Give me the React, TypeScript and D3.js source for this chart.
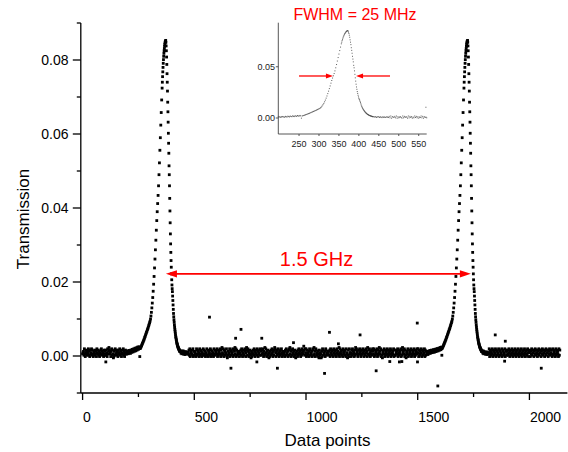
import React from "react";
import * as d3 from "d3";

// ---------- data ----------
const X_TICKS = [0, 500, 1000, 1500, 2000];
const X_MINOR = [250, 750, 1250, 1750];
const Y_TICKS = [0, 0.02, 0.04, 0.06, 0.08];
const Y_MINOR = [-0.01, 0.01, 0.03, 0.05, 0.07, 0.09];
const INSET_X_TICKS = [250, 300, 350, 400, 450, 500, 550];
const INSET_Y_TICKS = [0, 0.05];

// resonance centres (data index)
const PEAK_CENTERS = [372, 1723];
// peak profile: offset from centre (data index) and value in units of 1e-4
const PEAK_OFFSETS = [
  -114, -112, -110, -108, -106, -104, -102, -100, -98, -96, -94, -92, -90, -88, -86, -84,
  -82, -80, -78, -76, -74, -72, -70, -68, -66, -64, -62, -60,
  -58, -56, -54, -52, -50, -48, -46, -44, -42, -40, -38, -36, -34, -32,
  -30, -28, -26, -24, -22, -20, -18, -16,
  -15, -14, -13, -12, -11, -10, -9, -8, -7, -6, -5, -4, -3, -2, -1, 0,
  1, 2, 3, 4, 5, 6, 7, 8, 9, 10, 11, 12, 13, 14, 15, 16,
  17, 18, 19, 20, 21, 22, 23, 24, 25, 26, 27, 28, 29, 30, 31, 32,
  33, 34, 35, 36, 37, 38, 39, 40, 41, 42, 43, 44, 45, 46, 47, 48,
  49, 50, 51, 52, 53, 54, 55, 56, 57, 58, 59, 60, 61, 62, 63, 64,
];
const PEAK_VALUES = [
  20, 23, 25, 28, 31, 34, 37, 40, 43, 46, 50, 53, 57, 60, 64, 67,
  71, 74, 78, 82, 86, 90, 94, 100, 108, 118, 130, 143,
  158, 175, 194, 215, 238, 262, 287, 313, 340, 366, 390, 412, 434, 460,
  490, 522, 556, 590, 624, 658, 692, 724,
  740, 755, 768, 780, 791, 801, 810, 818, 825, 831, 837, 842, 846, 849, 851, 853,
  848, 838, 825, 808, 788, 763, 740, 716, 686, 660, 632, 602, 575, 548, 514, 490,
  460, 426, 392, 360, 330, 303, 280, 258, 240, 222, 206, 192, 182, 174, 162, 150,
  138, 126, 115, 106, 98, 91, 84, 78, 72, 67, 62, 57, 52, 49, 45, 42,
  38, 35, 33, 31, 28, 26, 24, 23, 21, 20, 18, 17, 16, 14, 13, 12,
];

// wing regions next to the peaks, units of 1e-4, every 2nd index
const TAIL_STARTS = [196, 438, 1540, 1789];
const TAIL_VALUES = [
  [5, 12, 8, 14, 6, 11, 15, 9, 13, 7, 16, 12, 10, 18, 14, 11, 19, 15, 13, 21, 17, 14, 22, 19, 16, 24, 20, 18, 25, 21],
  [14, 8, 13, 6, 12, 9, 14, 5, 11, 8, 4, 12, 7, 10, 5, 9, 11],
  [6, 12, 9, 4, 13, 8, 11, 15, 7, 12, 10, 16, 9, 14, 11, 17, 13, 10, 18, 14, 12, 19, 15, 13, 20, 17, 14, 21, 18, 16, 23, 19, 17, 24],
  [13, 8, 14, 6, 12, 7, 11, 5, 10, 8, 4, 11, 6, 9, 5, 8],
];

// flat baseline: one digit per 2 data indices, level = (-5 + 3.5 * digit) * 1e-4
const BASELINE_STEP = 2;
const LAST_INDEX = 2136;
const BASELINE_DIGITS =
  "34527314652437251634726315426351743625143672534162" +
  "53624173586341572630152736425163472531643725146352" +
  "42637152436274153627415326471532647153264713526473" +
  "15342637251436271543627153426375142637152436271543" +
  "62715843627154326371524367215436271543627154362715" +
  "24531726354172635142736251437261534271635241736254" +
  "37162543716284371625437102534716253471625837162543" +
  "51436275143627514862751436205143627514362751436275" +
  "26374152837415263041526374152687415263741526374152" +
  "43516274351627835162743516204351627435162743596274" +
  "71624351762435176283517624351062430517624351762435" +
  "35261743526174352617435281743526174352617430261743" +
  "41627354162837451263745126374513627451836274153627" +
  "53716245371624853716204537162453716245371624537162" +
  "26453716245371628453716204537162453716245371624537" +
  "47162534716253471625347162534716283471625347102534" +
  "35172643517264351726435172643517264351786435172643" +
  "61534726153472615347261534726158472615347261534726" +
  "24371652437165243716524371652437165243716524371652" +
  "53627415362741536274153627415362741536274153627415" +
  "46153726461537264615372646153726461537264615372646" +
  "31726453172645317264531726453172645317264531726453";

// isolated points
const OUTLIER_X = [104, 568, 664, 685, 709, 780, 802, 872, 944, 1083, 1105, 1145, 1242, 1314, 1375, 1418, 1429, 1498, 1499, 1590, 1847, 1889, 1892, 2053];
const OUTLIER_Y = [-0.0016, 0.0105, -0.0033, 0.0048, 0.0072, -0.0016, 0.0048, -0.0033, 0.0036, -0.0047, 0.0064, 0.0033, 0.0057, -0.004, -0.0015, -0.0016, -0.0015, 0.0089, -0.0016, -0.0081, 0.0057, -0.0014, 0.004, -0.0033];

// annotations
const SPACING_LABEL = "1.5 GHz";
const ARROW_FROM = 373;
const ARROW_TO = 1738;
const ARROW_Y = 0.0222;
const FWHM_LABEL = "FWHM = 25 MHz";
const FWHM_LEFT = [250, 335];
const FWHM_RIGHT = [478, 393];
const FWHM_Y = 0.041;

// ---------- build point list ----------
type P = { i: number; v: number };
function buildPoints(): P[] {
  const pts: P[] = [];
  const inRange = (idx: number, a: number, b: number) => idx >= a && idx <= b;
  const lo = d3.min(PEAK_OFFSETS) as number;
  const hi = d3.max(PEAK_OFFSETS) as number;
  const peakRanges = PEAK_CENTERS.map((c) => [c + lo, c + hi]);
  const tailRanges = TAIL_STARTS.map((s, k) => [s, s + BASELINE_STEP * (TAIL_VALUES[k].length - 1)]);
  for (let k = 0; k < BASELINE_DIGITS.length; k++) {
    const idx = k * BASELINE_STEP;
    if (idx > LAST_INDEX) break;
    if (peakRanges.some(([a, b]) => inRange(idx, a, b))) continue;
    if (tailRanges.some(([a, b]) => inRange(idx, a, b))) continue;
    const d = +BASELINE_DIGITS[k];
    pts.push({ i: idx, v: (-5 + 3.5 * d) * 1e-4 });
  }
  TAIL_STARTS.forEach((s, k) => {
    TAIL_VALUES[k].forEach((val, j) => pts.push({ i: s + BASELINE_STEP * j, v: val * 1e-4 }));
  });
  PEAK_CENTERS.forEach((c) => {
    PEAK_OFFSETS.forEach((o, j) => pts.push({ i: c + o, v: PEAK_VALUES[j] * 1e-4 }));
  });
  OUTLIER_X.forEach((xv, j) => pts.push({ i: xv, v: OUTLIER_Y[j] }));
  return pts;
}

const FONT = "'Liberation Sans', Arial, Helvetica, sans-serif";
const RED = "#ff0000";

export default function App() {
  const W = 568;
  const H = 452;
  const x = d3.scaleLinear().domain([-8, 2170]).range([80.8, 567.4]);
  const y = d3.scaleLinear().domain([-0.01, 0.09]).range([393, 23]);
  const ix = d3.scaleLinear().domain([198, 570]).range([278.3, 426.7]);
  const iy = d3.scaleLinear().domain([-0.0156, 0.093]).range([134, 22.7]);

  const pts = buildPoints();
  const insetPts = pts.filter((p) => p.i >= ix.domain()[0] && p.i <= ix.domain()[1]);

  const [x0, x1] = x.range();
  const [yb, yt] = y.range();
  const s = 2.8;

  const ay = y(ARROW_Y);
  const ax0 = x(ARROW_FROM);
  const ax1 = x(ARROW_TO);
  const headL = 11;
  const headH = 3.6;

  const fy = iy(FWHM_Y);

  return (
    <svg
      width={W}
      height={H}
      viewBox={`0 0 ${W} ${H}`}
      style={{ position: "absolute", left: 0, top: 0, background: "#fff" }}
      fontFamily={FONT}
    >
      <rect x={0} y={0} width={W} height={H} fill="#fff" />
      {/* main data */}
      <g fill="#000">
        {pts.map((p, k) => (
          <rect key={k} x={x(p.i) - s / 2} y={y(p.v) - s / 2} width={s} height={s} />
        ))}
      </g>

      {/* axes */}
      <g stroke="#000" strokeWidth={1.3} fill="none">
        <line x1={x0} x2={x0} y1={yt} y2={yb} />
        <line x1={x0} x2={x1} y1={yb} y2={yb} />
        {Y_TICKS.map((t) => (
          <line key={t} x1={x0 - 8} x2={x0} y1={y(t)} y2={y(t)} />
        ))}
        {Y_MINOR.map((t) => (
          <line key={t} x1={x0 - 4} x2={x0} y1={y(t)} y2={y(t)} />
        ))}
        {X_TICKS.map((t) => (
          <line key={t} x1={x(t)} x2={x(t)} y1={yb} y2={yb + 7} />
        ))}
        {X_MINOR.map((t) => (
          <line key={t} x1={x(t)} x2={x(t)} y1={yb} y2={yb + 4} />
        ))}
      </g>
      <g fontSize={14} fill="#000">
        {Y_TICKS.map((t) => (
          <text key={t} x={68.5} y={y(t)} dy="0.36em" textAnchor="end">
            {d3.format(".2f")(t)}
          </text>
        ))}
        {X_TICKS.map((t) => (
          <text key={t} x={x(t) + 0.5} y={421.7} textAnchor="start">
            {t}
          </text>
        ))}
      </g>
      <text x={327.5} y={445.5} fontSize={17} textAnchor="middle" fill="#000">
        Data points
      </text>
      <text
        transform={`translate(29.3,219) rotate(-90)`}
        fontSize={17}
        textAnchor="middle"
        fill="#000"
      >
        Transmission
      </text>

      {/* 1.5 GHz arrow */}
      <g fill={RED} stroke="none">
        <line x1={ax0 + headL - 1} x2={ax1 - headL + 1} y1={ay} y2={ay} stroke={RED} strokeWidth={1.8} />
        <polygon points={`${ax0},${ay} ${ax0 + headL},${ay - headH} ${ax0 + headL},${ay + headH}`} />
        <polygon points={`${ax1},${ay} ${ax1 - headL},${ay - headH} ${ax1 - headL},${ay + headH}`} />
      </g>
      <text x={316.5} y={265.5} fontSize={20} textAnchor="middle" fill={RED}>
        {SPACING_LABEL}
      </text>

      {/* inset */}
      <g fill="#444" fillOpacity={0.85}>
        {insetPts.map((p, k) => (
          <rect key={k} x={ix(p.i) - 0.5} y={iy(p.v) - 0.5} width={1} height={1} />
        ))}
      </g>
      <g stroke="#444" strokeWidth={0.9} fill="none">
        <line x1={ix.range()[0]} x2={ix.range()[0]} y1={iy.range()[1]} y2={iy.range()[0]} />
        <line x1={ix.range()[0]} x2={ix.range()[1]} y1={iy.range()[0]} y2={iy.range()[0]} />
        {INSET_Y_TICKS.map((t) => (
          <line key={t} x1={ix.range()[0] - 2.5} x2={ix.range()[0]} y1={iy(t)} y2={iy(t)} />
        ))}
        {INSET_X_TICKS.map((t) => (
          <line key={t} x1={ix(t)} x2={ix(t)} y1={iy.range()[0]} y2={iy.range()[0] + 2} />
        ))}
      </g>
      <g fontSize={9} fill="#222">
        {INSET_Y_TICKS.map((t) => (
          <text key={t} x={275} y={iy(t)} dy="0.36em" textAnchor="end">
            {d3.format(".2f")(t)}
          </text>
        ))}
        {INSET_X_TICKS.map((t) => (
          <text key={t} x={ix(t)} y={146.5} textAnchor="middle">
            {t}
          </text>
        ))}
      </g>
      <g fill={RED}>
        <line x1={ix(FWHM_LEFT[0])} x2={ix(FWHM_LEFT[1]) - 5} y1={fy} y2={fy} stroke={RED} strokeWidth={1.3} />
        <polygon points={`${ix(FWHM_LEFT[1])},${fy} ${ix(FWHM_LEFT[1]) - 7},${fy - 2.6} ${ix(FWHM_LEFT[1]) - 7},${fy + 2.6}`} />
        <line x1={ix(FWHM_RIGHT[0])} x2={ix(FWHM_RIGHT[1]) + 5} y1={fy} y2={fy} stroke={RED} strokeWidth={1.3} />
        <polygon points={`${ix(FWHM_RIGHT[1])},${fy} ${ix(FWHM_RIGHT[1]) + 7},${fy - 2.6} ${ix(FWHM_RIGHT[1]) + 7},${fy + 2.6}`} />
      </g>
      <text x={355} y={19.5} fontSize={16} textAnchor="middle" fill={RED}>
        {FWHM_LABEL}
      </text>
    </svg>
  );
}
